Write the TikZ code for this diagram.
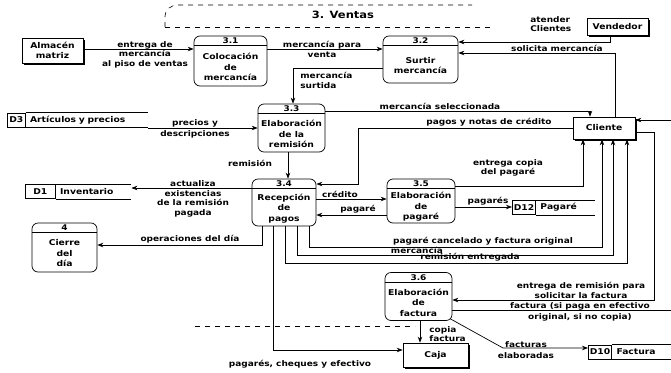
\documentclass[tikz,border=0pt]{standalone}
\usepackage{fontspec}
\setmainfont{DejaVu Sans}[FakeStretch=1.15]
\usetikzlibrary{arrows.meta, positioning, shadows}

\newcommand\boxfont{\bfseries\fontsize{8}{10.5}\selectfont}
\newcommand\lblfont{\bfseries\fontsize{7.8}{9.5}\selectfont}

\begin{document}
\begin{tikzpicture}[x=1pt, y=-1pt, >={Stealth[length=6pt,width=4.5pt]}, line width=0.7pt,
	proc/.style={draw, rounded corners=6pt, minimum width=67pt, minimum height=48pt, inner sep=0pt},
	ptext/.style={align=center, font=\boxfont, inner sep=0pt},
	num/.style={font=\lblfont, inner sep=0pt},
	ent/.style={draw, fill=white, align=center, font=\boxfont, minimum width=61pt,
		inner ysep=1pt, drop shadow={shadow xshift=1.8pt, shadow yshift=-1.8pt, fill=black, opacity=1}},
	sid/.style={draw, anchor=west, minimum height=14pt, inner xsep=1.5pt, inner ysep=1pt, font=\boxfont},
	sname/.style={minimum height=14pt, align=left, inner xsep=4pt, inner ysep=1pt, font=\boxfont},
	lbl/.style={font=\lblfont, align=center, inner sep=0pt},
	limit/.style={dash pattern=on 5pt off 5pt, line width=0.6pt}]

	\useasboundingbox (0,0) rectangle (671,372);

	% boundary of process 3
	\draw[limit] (165,27) -- (165,16) to[out=90, in=180] (178,5) -- (472,5);
	\draw[limit] (165,27) -- (493,27);
	\draw[limit] (195,326) -- (415,326);
	\node[font=\bfseries\fontsize{10}{12}\selectfont] (title) at (343,15) {3. Ventas};

	% external entities
	\node[ent, minimum height=25pt] (almacen) at (52.5,50.5) {Almacén\\matriz};
	\node[ent, minimum height=17pt] (vendedor) at (617.5,26.5) {Vendedor};
	\node[ent, minimum height=22pt, minimum width=62pt] (cliente) at (604,128) {Cliente};
	\node[ent, minimum height=24pt, minimum width=65pt] (caja) at (435.5,355) {Caja};

	% processes
	\node[proc, minimum width=73pt, minimum height=50pt] (p31) at (230.5,61) {};
	\node[proc, minimum width=75pt, minimum height=47pt] (p32) at (420.5,59.5) {};
	\node[proc] (p33) at (291.5,128) {};
	\node[proc, minimum width=64pt, minimum height=47pt] (p34) at (284,202.5) {};
	\node[proc, minimum width=68pt, minimum height=44pt] (p35) at (421,201) {};
	\node[proc] (p36) at (418.5,296.5) {};
	\node[proc, minimum width=65pt, minimum height=49pt] (p4) at (64.5,247.5) {};

	\foreach \p/\n/\txt in {p31/3.1/{Colocación\\de\\mercancía}, p32/3.2/{Surtir\\mercancía},
			p33/3.3/{Elaboración\\de la\\remisión}, p34/3.4/{Recepción\\de\\pagos},
			p35/3.5/{Elaboración\\de\\pagaré}, p36/3.6/{Elaboración\\de\\factura},
			p4/4/{Cierre\\del\\día}} {
		\draw ([yshift=-10pt]\p.north west) -- ([yshift=-10pt]\p.north east);
		\node[num] (\p n) at ([yshift=-5.5pt]\p.north) {\n};
		\node[ptext] (\p t) at ([yshift=-6pt]\p.center) {\txt};
	}

	% data stores
	\node[sid, minimum width=18pt] (d3id) at (7,120) {D3};
	\node[sname, right=0pt of d3id, text width=114pt] (d3) {Artículos y precios};
	\node[sid, minimum width=30pt] (d1id) at (25,191.5) {D1};
	\node[sname, right=0pt of d1id, text width=67pt] (d1) {Inventario};
	\node[sid, minimum width=21pt] (d12id) at (512,207.5) {D12};
	\node[sname, right=0pt of d12id, text width=50pt] (d12) {Pagaré};
	\node[sid, minimum width=20pt] (d10id) at (588,352) {D10};
	\node[sname, right=0pt of d10id, text width=55pt] (d10) {Factura};

	\foreach \s in {d3, d1, d12, d10}
		\draw (\s.north west) -- (\s.north east) (\s.south west) -- (\s.south east);

	% data flows
	\draw[->] (almacen.east |- 0,49) -- (p31.west |- 0,49);
	\node[lbl, anchor=north] (f1) at (145,41) {entrega de\\mercancía\\al piso de ventas};

	\draw[->] (p31.east |- 0,49) -- (p32.west |- 0,49);
	\node[lbl, anchor=north] (f2) at (322,41) {mercancía para\\venta};

	\draw[->] ([xshift=-7pt]vendedor.south) |- (p32.east |- 0,42);
	\node[lbl, anchor=north west, align=left] (f3) at (530,16) {atender\\Clientes};

	\draw[->] (cliente.north -| 615,0) |- (p32.east |- 0,53);
	\node[lbl, anchor=south] (f4) at (557,51.5) {solicita mercancía};

	\draw[->] (p32.west |- 0,68) -| (p33.north -| 293,0);
	\node[lbl, anchor=north west, align=left] (f5) at (300,72) {mercancía\\surtida};

	\draw[->] (d3.east |- 0,128) -- (p33.west |- 0,128);
	\node[lbl] (f6) at (195,129) {precios y\\[2pt]descripciones};

	\draw[->] (p33.east |- 0,111) -| ([xshift=-14pt]cliente.north);
	\node[lbl, anchor=south] (f7) at (440,109.5) {mercancía seleccionada};

	\draw[->] (cliente.west) -| (358,184) -- (p34.east |- 0,184);
	\node[lbl, anchor=south] (f8) at (489,126.5) {pagos y notas de crédito};

	\draw[->] (p33.south -| 288,0) -- (p34.north -| 288,0);
	\node[lbl] (f9) at (250,163) {remisión};

	\draw[->] (p34.west |- 0,188) -- (d1.east |- 0,188);
	\node[lbl, anchor=north] (f10) at (193,180.5) {actualiza\\existencias\\de la remisión\\pagada};

	\draw[->] (p34.east |- 0,199) -- (p35.west |- 0,199);
	\node[lbl, anchor=south] (f11) at (340,197.5) {crédito};
	\draw[->] (p35.west |- 0,215) -- (p34.east |- 0,215);
	\node[lbl, anchor=south] (f12) at (358,213.5) {pagaré};

	\draw[->] (p35.east |- 0,186) -| ([xshift=-21pt]cliente.south);
	\node[lbl] (f13) at (508,168) {entrega copia\\del pagaré};

	\draw[->] (p35.east |- 0,207) -- (d12id.west |- 0,207);
	\node[lbl, anchor=south] (f14) at (488,205.5) {pagarés};

	\draw[->] (p34.south -| 262,0) |- (p4.east |- 0,245);
	\node[lbl, anchor=south] (f15) at (190,243.5) {operaciones del día};

	\draw[->] (p34.south -| 273,0) |- (caja.west |- 0,350);
	\node[lbl, anchor=north] (f16) at (300,360) {pagarés, cheques y efectivo};

	\draw[->] (p34.south -| 309,0) |- (602,247) -- (cliente.south -| 602,0);
	\node[lbl, anchor=south] (f17) at (483,245.5) {pagaré cancelado y factura original};
	\draw[->] (p34.south -| 297,0) |- (613,255) -- (cliente.south -| 613,0);
	\node[lbl, anchor=south] (f18) at (417,253.5) {mercancía};
	\draw[->] (p34.south -| 285,0) |- (627,263) -- (cliente.south -| 627,0);
	\node[lbl, anchor=south] (f19) at (470,261.5) {remisión entregada};

	\draw[->] (cliente.east |- 0,132) -| (654,300) -- (p36.east |- 0,300);
	\node[lbl, anchor=south] (f20) at (581,298.5) {entrega de remisión para\\solicitar la factura};

	\draw[->] (p36.east |- 0,310) -| (676,120) -- (cliente.east |- 0,120);
	\node[lbl] (f21) at (580,312) {factura (si paga en efectivo\\[2pt]original, si no copia)};

	\draw[->] (p36.south -| 420,0) -- (caja.north -| 420,0);
	\node[lbl, anchor=west, align=left] (f22) at (429,334) {copia\\factura};

	\draw[->] ([shift={(-2,-2)}]p36.south east) -- (503,348) -- (d10id.west |- 0,348);
	\node[lbl] (f23) at (526,350) {facturas\\[2pt]elaboradas};

\end{tikzpicture}
\end{document}
